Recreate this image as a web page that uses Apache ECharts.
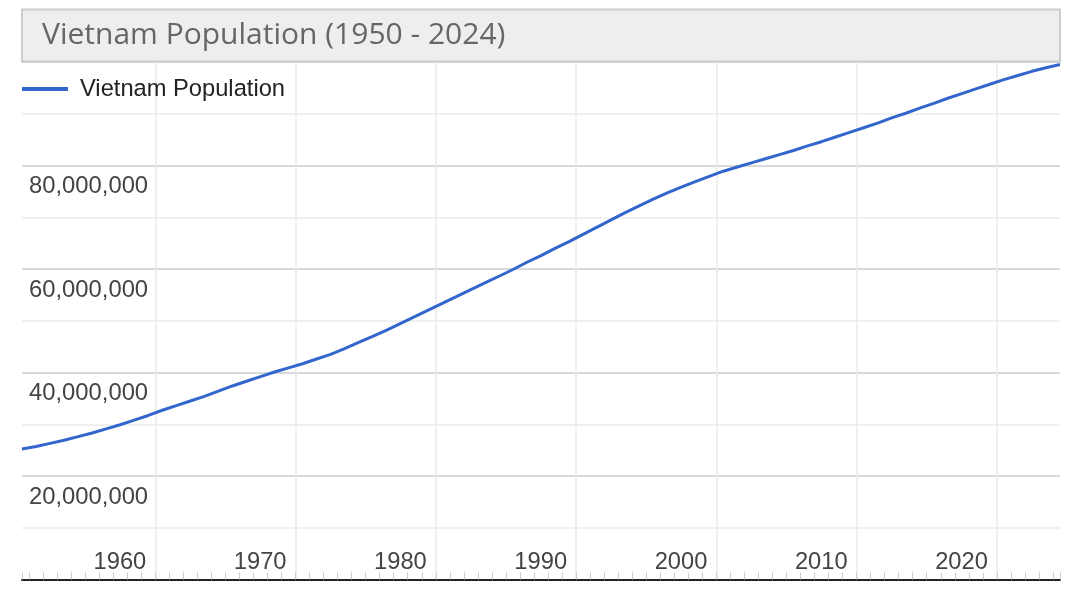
<!DOCTYPE html>
<html>
<head>
<meta charset="utf-8">
<title>Vietnam Population (1950 - 2024)</title>
<script src="https://cdn.jsdelivr.net/npm/echarts@6/dist/echarts.min.js"></script>
<style>
  html, body { margin: 0; padding: 0; background: #fff; }
  #chart { width: 1088px; height: 594px; }
</style>
</head>
<body>
<div id="chart"></div>
<script>
const titleText = "Vietnam Population (1950 - 2024)";
const seriesName = "Vietnam Population";

const years = [
  1950, 1951, 1952, 1953, 1954, 1955, 1956, 1957, 1958, 1959,
  1960, 1961, 1962, 1963, 1964, 1965, 1966, 1967, 1968, 1969,
  1970, 1971, 1972, 1973, 1974, 1975, 1976, 1977, 1978, 1979,
  1980, 1981, 1982, 1983, 1984, 1985, 1986, 1987, 1988, 1989,
  1990, 1991, 1992, 1993, 1994, 1995, 1996, 1997, 1998, 1999,
  2000, 2001, 2002, 2003, 2004, 2005, 2006, 2007, 2008, 2009,
  2010, 2011, 2012, 2013, 2014, 2015, 2016, 2017, 2018, 2019,
  2020, 2021, 2022, 2023, 2024
];

// mid-year population estimates
const population = [
  25200000, 25700000, 26300000, 26900000, 27600000, 28300000, 29100000, 29900000, 30800000, 31700000,
  32700000, 33600000, 34500000, 35400000, 36400000, 37400000, 38300000, 39200000, 40100000, 40900000,
  41700000, 42600000, 43500000, 44600000, 45800000, 47000000, 48200000, 49500000, 50800000, 52100000,
  53400000, 54700000, 56000000, 57300000, 58600000, 59900000, 61300000, 62600000, 64000000, 65300000,
  66700000, 68100000, 69500000, 70900000, 72200000, 73500000, 74700000, 75800000, 76900000, 77900000,
  78900000, 79700000, 80500000, 81300000, 82100000, 82900000, 83800000, 84600000, 85500000, 86400000,
  87300000, 88200000, 89200000, 90100000, 91100000, 92000000, 93000000, 93900000, 94800000, 95700000,
  96600000, 97400000, 98200000, 98900000, 99500000
];

const yMin = 0;
const yMax = 100000000;
const yInterval = 20000000;

// values are mid-year, so each point sits half a year after Jan 1
const MID_YEAR = 0.5;
const xMin = years[0] + MID_YEAR;
const xMax = years[years.length - 1] + MID_YEAR;

const labelFont = "'Liberation Sans', Arial, sans-serif";
const lineColor = "#3366cc";

const chart = echarts.init(document.getElementById("chart"));

const option = {
  animation: false,
  backgroundColor: "#fff",
  graphic: [{
    type: "rect",
    z: 0,
    shape: { x: 22, y: 9.5, width: 1038, height: 52 },
    style: { fill: "#eeeeee", stroke: "#cccccc", lineWidth: 2 }
  }],
  title: {
    text: titleText,
    left: 42,
    top: 15,
    padding: 0,
    z: 10,
    textStyle: {
      fontFamily: "'Open Sans', sans-serif",
      fontSize: 30,
      fontWeight: "normal",
      color: "#666666",
      lineHeight: 40
    }
  },
  legend: {
    left: 22,
    top: 77,
    padding: 0,
    icon: "rect",
    itemWidth: 46,
    itemHeight: 4,
    itemGap: 20,
    textStyle: {
      fontFamily: labelFont,
      fontSize: 23.7,
      color: "#222222",
      padding: [0, 0, 0, 7]
    },
    data: [seriesName]
  },
  grid: {
    left: 22,
    right: 28,
    top: 62,
    bottom: 14.5,
    containLabel: false
  },
  xAxis: [{
    type: "value",
    min: xMin,
    max: xMax,
    splitNumber: 7,
    axisLine: { show: true, lineStyle: { color: "#222222", width: 2 } },
    axisTick: { show: false },
    axisLabel: {
      inside: true,
      margin: 5,
      align: "right",
      padding: [0, 9, 0, 0],
      fontFamily: labelFont,
      fontSize: 23.7,
      color: "#444444",
      showMinLabel: false,
      showMaxLabel: false,
      formatter: v => (v % 10 === 0 ? String(v) : "")
    },
    splitLine: {
      show: true,
      showMinLine: false,
      showMaxLine: false,
      lineStyle: { color: "#ebebeb", width: 1.5 }
    }
  }, {
    // yearly ticks along the baseline
    type: "value",
    min: xMin,
    max: xMax,
    splitNumber: 74,
    position: "bottom",
    axisLine: { show: false },
    axisLabel: { show: false },
    splitLine: { show: false },
    axisTick: { show: true, inside: true, length: 7, lineStyle: { color: "#cccccc", width: 1 } }
  }],
  yAxis: {
    type: "value",
    min: yMin,
    max: yMax,
    interval: yInterval,
    axisLine: { show: false },
    axisTick: { show: false },
    axisLabel: {
      inside: true,
      margin: 7,
      verticalAlign: "top",
      lineHeight: 24,
      padding: [9, 0, 0, 0],
      fontFamily: labelFont,
      fontSize: 23.8,
      color: "#444444",
      showMinLabel: false,
      showMaxLabel: false,
      formatter: v => v.toLocaleString("en-US")
    },
    splitLine: { show: true, lineStyle: { color: "#cccccc", width: 1.5 } },
    minorTick: { show: false, splitNumber: 2 },
    minorSplitLine: { show: true, lineStyle: { color: "#ebebeb", width: 1.5 } }
  },
  series: [{
    name: seriesName,
    type: "line",
    xAxisIndex: 0,
    symbol: "none",
    smooth: false,
    lineStyle: { color: lineColor, width: 3 },
    itemStyle: { color: lineColor },
    data: years.map((y, i) => [y + MID_YEAR, population[i]])
  }]
};

chart.setOption(option);
</script>
</body>
</html>
